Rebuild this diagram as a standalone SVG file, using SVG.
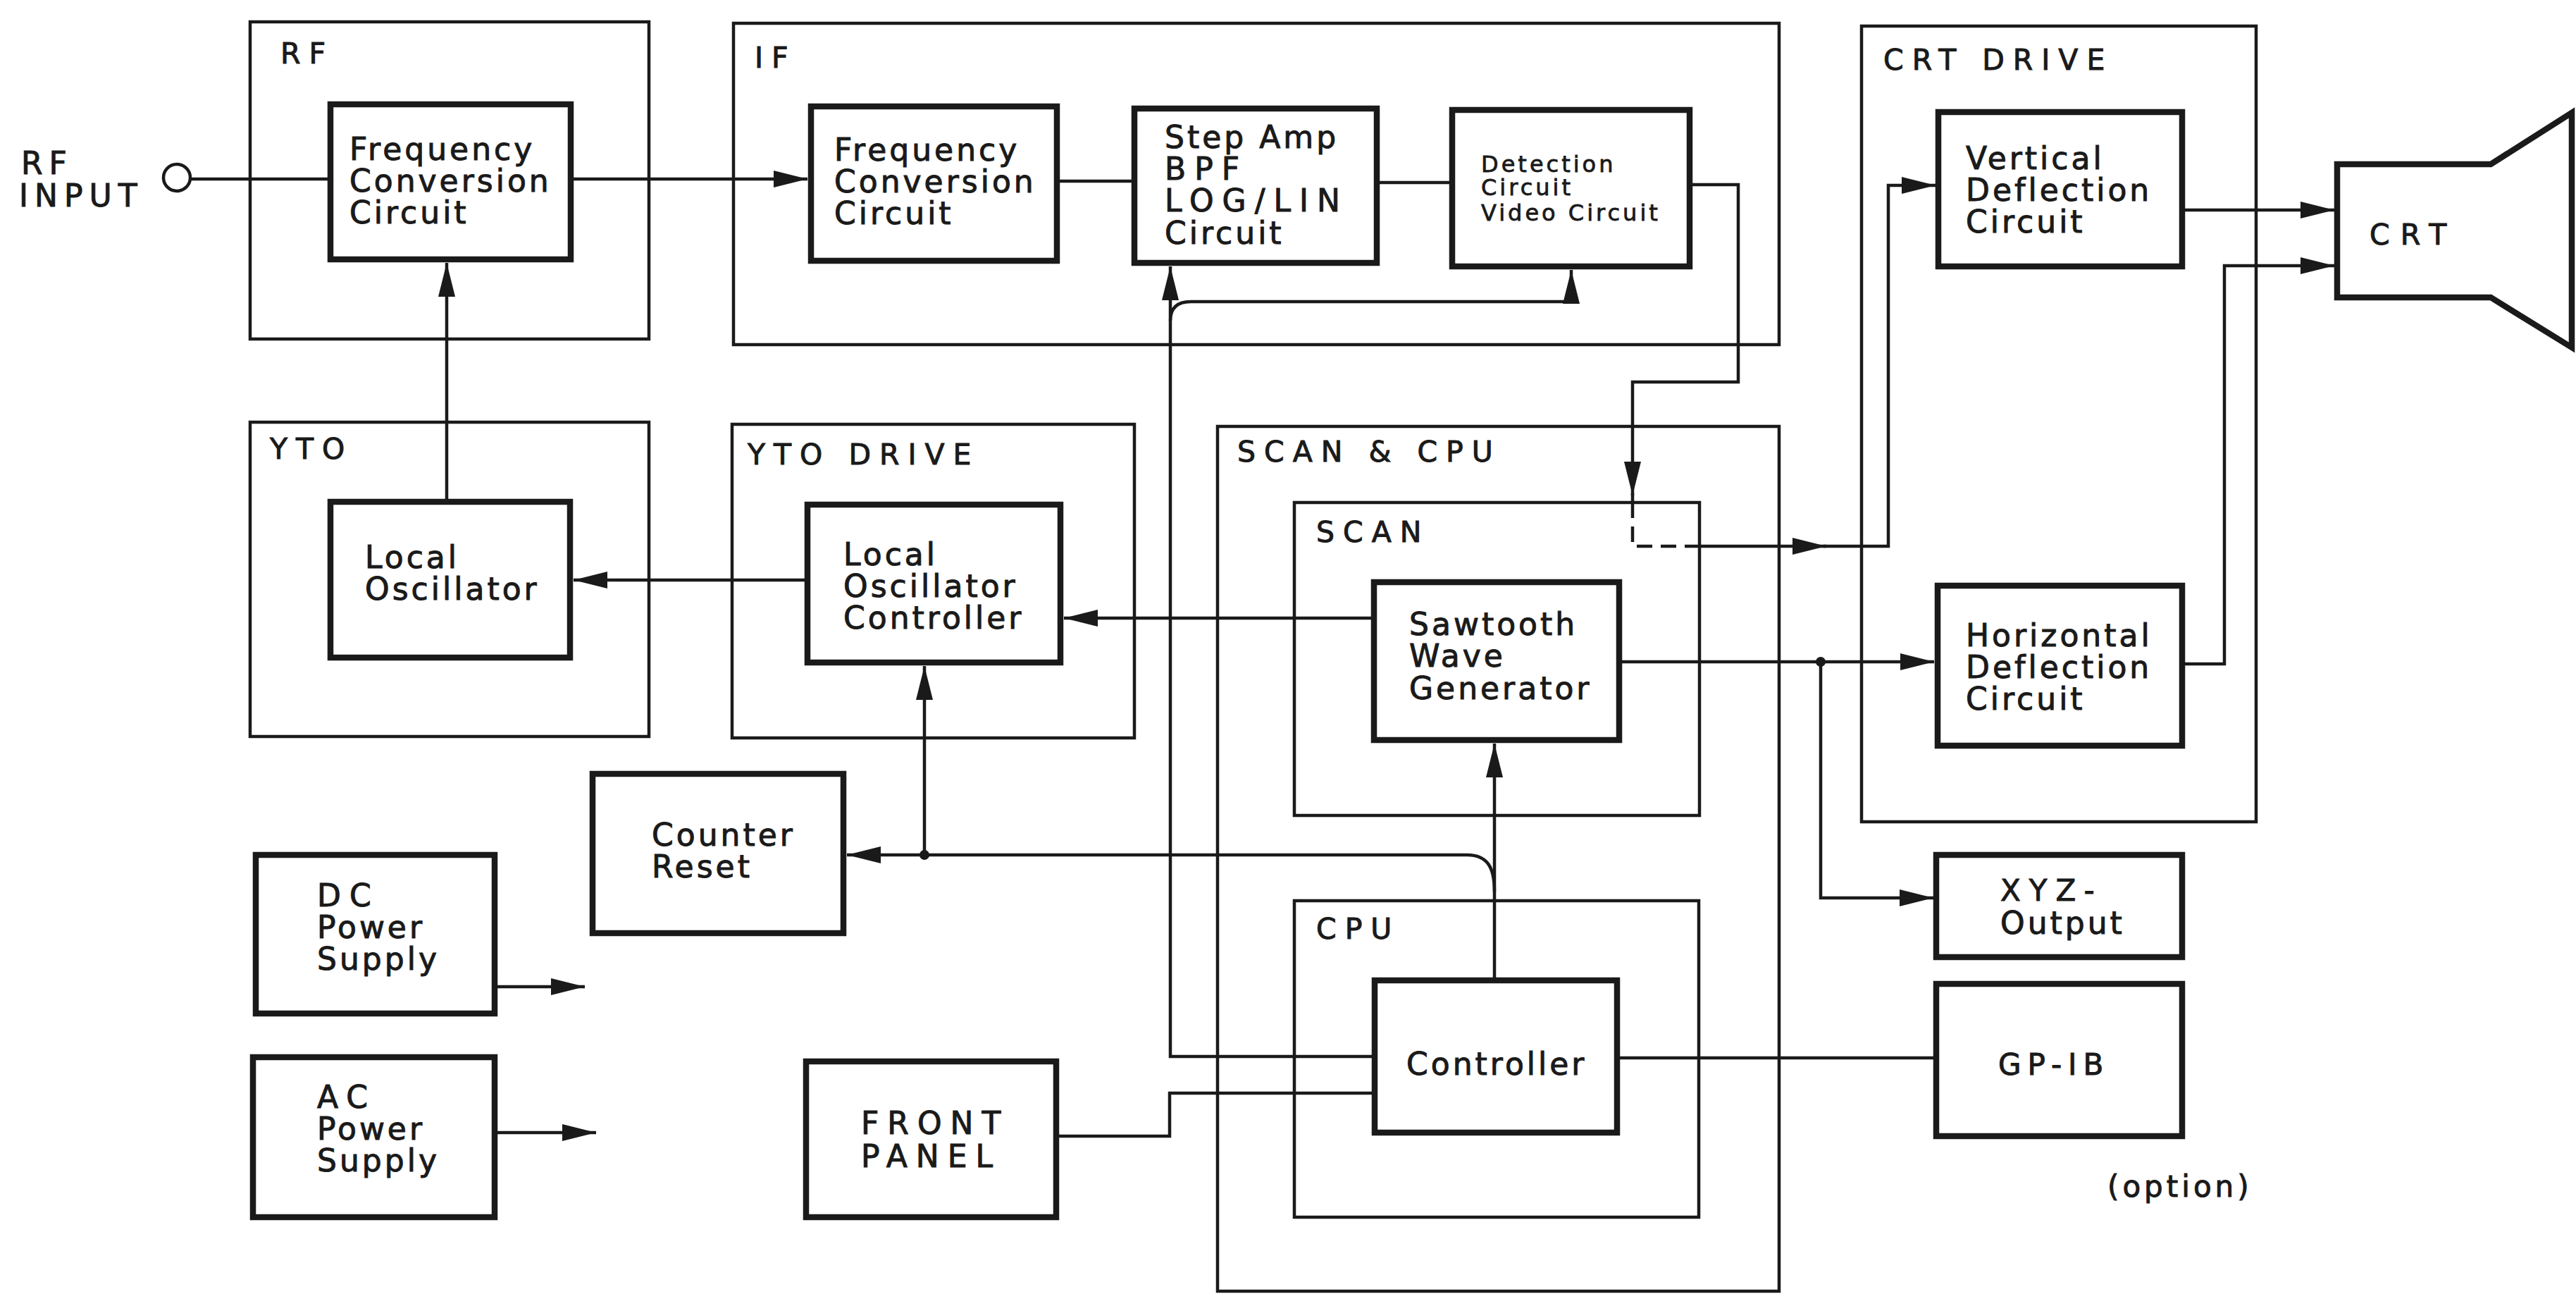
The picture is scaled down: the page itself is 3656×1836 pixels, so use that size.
<svg xmlns="http://www.w3.org/2000/svg" xmlns:xlink="http://www.w3.org/1999/xlink" width="3656" height="1836" viewBox="0 0 3656 1836">
<style>
  .frame{fill:none;stroke:#1a1a1a;stroke-width:4.5}
  .box{fill:none;stroke:#1a1a1a;stroke-width:8.5}
  .wire{fill:none;stroke:#1a1a1a;stroke-width:4.5}
  .dash{fill:none;stroke:#1a1a1a;stroke-width:4.5;stroke-dasharray:22 12}
  .dot{fill:#1a1a1a}
  text{font-family:"DejaVu Sans","Liberation Sans",sans-serif;fill:#1a1a1a;stroke:#1a1a1a;stroke-width:1}
  .lbl{font-size:41px;letter-spacing:12px}
  .t{font-size:44px;letter-spacing:4px}
  .tu{font-size:44px;letter-spacing:12px}
  .ts{font-size:32px;letter-spacing:4px;stroke-width:0.8}
</style>
<defs>
  <marker id="arr" markerUnits="userSpaceOnUse" markerWidth="50" markerHeight="26" refX="48" refY="12" orient="auto">
    <path d="M0,0 L48,12 L0,24 Z" fill="#1a1a1a"/>
  </marker>
</defs>
<rect x="0" y="0" width="3656" height="1836" fill="#ffffff"/>

<!-- group frames -->
<g id="grp-rf"><rect class="frame" x="355" y="31" width="566" height="450"/><text class="lbl" x="398" y="90">RF</text></g>
<g id="grp-if"><rect class="frame" x="1041" y="33" width="1484" height="456"/><text class="lbl" x="1071" y="96">IF</text></g>
<g id="grp-crtdrive"><rect class="frame" x="2642" y="37" width="560" height="1129"/><text class="lbl" x="2673" y="99">CRT DRIVE</text></g>
<g id="grp-yto"><rect class="frame" x="355" y="599" width="566" height="446"/><text class="lbl" x="383" y="651">YTO</text></g>
<g id="grp-ytodrive"><rect class="frame" x="1039" y="602" width="571" height="445"/><text class="lbl" x="1061" y="659">YTO DRIVE</text></g>
<g id="grp-scancpu"><rect class="frame" x="1728" y="605" width="797" height="1227"/><text class="lbl" x="1756" y="655">SCAN &amp; CPU</text></g>
<g id="grp-scan"><rect class="frame" x="1837" y="713" width="575" height="444"/><text class="lbl" x="1868" y="769">SCAN</text></g>
<g id="grp-cpu"><rect class="frame" x="1837" y="1278" width="574" height="449"/><text class="lbl" x="1868" y="1332">CPU</text></g>

<!-- connectors -->
<g id="connectors">
  <circle class="wire" cx="251" cy="252" r="19"/>
  <path class="wire" d="M270 254 L469 254"/>
  <path class="wire" d="M810 254 L1146 254" marker-end="url(#arr)"/>
  <path class="wire" d="M1500 257 L1610 257"/>
  <path class="wire" d="M1954 259 L2061 259"/>
  <path class="wire" d="M2398 262 L2467 262 L2467 542 L2317 542 L2317 703" marker-end="url(#arr)"/>
  <path class="wire" d="M2317 700 L2317 713"/>
  <path class="dash" d="M2317 713 L2317 775 L2413 775"/>
  <path class="wire" d="M2411 775 L2592 775" marker-end="url(#arr)"/>
  <path class="wire" d="M2588 775 L2680 775 L2680 263 L2747 263" marker-end="url(#arr)"/>
  <path class="wire" d="M3097 298 L3313 298" marker-end="url(#arr)"/>
  <path class="wire" d="M3097 942 L3157 942 L3157 377 L3313 377" marker-end="url(#arr)"/>
  <path class="wire" d="M1950 877 L1510 877" marker-end="url(#arr)"/>
  <path class="wire" d="M1146 823 L814 823" marker-end="url(#arr)"/>
  <path class="wire" d="M634 712 L634 373" marker-end="url(#arr)"/>
  <path class="wire" d="M2298 939 L2745 939" marker-end="url(#arr)"/>
  <circle class="dot" cx="2584" cy="939" r="7"/>
  <path class="wire" d="M2584 939 L2584 1274 L2744 1274" marker-end="url(#arr)"/>
  <path class="wire" d="M2295 1501 L2748 1501"/>
  <path class="wire" d="M2121 1391 L2121 1055" marker-end="url(#arr)"/>
  <path class="wire" d="M2121 1265 C2121 1232 2112 1213 2082 1213 L1202 1213" marker-end="url(#arr)"/>
  <circle class="dot" cx="1312" cy="1213" r="7"/>
  <path class="wire" d="M1312 1213 L1312 945" marker-end="url(#arr)"/>
  <path class="wire" d="M1951 1499 L1661 1499 L1661 378" marker-end="url(#arr)"/>
  <path class="wire" d="M1661 455 Q1661 428 1690 428 L2230 428 L2230 383" marker-end="url(#arr)"/>
  <path class="wire" d="M1499 1612 L1660 1612 L1660 1551 L1951 1551"/>
  <path class="wire" d="M706 1400 L830 1400" marker-end="url(#arr)"/>
  <path class="wire" d="M706 1607 L846 1607" marker-end="url(#arr)"/>
</g>

<!-- nodes -->
<g id="rf-input"><text class="tu" x="30" y="247" style="letter-spacing:9px">RF</text><text class="tu" x="27" y="293" style="letter-spacing:9px">INPUT</text></g>
<g id="rf-freqconv"><rect class="box" x="469" y="148" width="341" height="220"/>
  <text class="t" x="496" y="227">Frequency</text><text class="t" x="496" y="272">Conversion</text><text class="t" x="496" y="317">Circuit</text></g>
<g id="if-freqconv"><rect class="box" x="1151" y="151" width="349" height="219"/>
  <text class="t" x="1184" y="228">Frequency</text><text class="t" x="1184" y="273">Conversion</text><text class="t" x="1184" y="318">Circuit</text></g>
<g id="stepamp"><rect class="box" x="1610" y="154" width="344" height="219"/>
  <text class="t" x="1653" y="210">Step Amp</text><text class="tu" x="1653" y="255">BPF</text><text class="tu" x="1653" y="300">LOG/LIN</text><text class="t" x="1653" y="346">Circuit</text></g>
<g id="detection"><rect class="box" x="2061" y="156" width="337" height="222"/>
  <text class="ts" x="2102" y="244">Detection</text><text class="ts" x="2102" y="277">Circuit</text><text class="ts" x="2102" y="313">Video Circuit</text></g>
<g id="vertical"><rect class="box" x="2751" y="159" width="346" height="219"/>
  <text class="t" x="2790" y="240">Vertical</text><text class="t" x="2790" y="285">Deflection</text><text class="t" x="2790" y="330">Circuit</text></g>
<g id="crt"><path class="box" d="M3317 233 L3535 233 L3650 160 L3650 493 L3535 422 L3317 422 Z"/>
  <text class="tu" x="3363" y="347" style="font-size:41px;letter-spacing:15px">CRT</text></g>
<g id="localosc"><rect class="box" x="469" y="712" width="340" height="221"/>
  <text class="t" x="518" y="806">Local</text><text class="t" x="518" y="851">Oscillator</text></g>
<g id="locontroller"><rect class="box" x="1146" y="716" width="359" height="224"/>
  <text class="t" x="1197" y="802">Local</text><text class="t" x="1197" y="847">Oscillator</text><text class="t" x="1197" y="892">Controller</text></g>
<g id="sawtooth"><rect class="box" x="1950" y="826" width="348" height="224"/>
  <text class="t" x="2000" y="901">Sawtooth</text><text class="t" x="2000" y="946">Wave</text><text class="t" x="2000" y="992">Generator</text></g>
<g id="horizontal"><rect class="box" x="2750" y="831" width="347" height="227"/>
  <text class="t" x="2790" y="917">Horizontal</text><text class="t" x="2790" y="962">Deflection</text><text class="t" x="2790" y="1007">Circuit</text></g>
<g id="counterreset"><rect class="box" x="841" y="1098" width="356" height="226"/>
  <text class="t" x="925" y="1200">Counter</text><text class="t" x="925" y="1245">Reset</text></g>
<g id="dcpower"><rect class="box" x="363" y="1213" width="339" height="225"/>
  <text class="tu" x="450" y="1286">DC</text><text class="t" x="450" y="1331">Power</text><text class="t" x="450" y="1376">Supply</text></g>
<g id="acpower"><rect class="box" x="359" y="1500" width="343" height="227"/>
  <text class="tu" x="450" y="1572">AC</text><text class="t" x="450" y="1617">Power</text><text class="t" x="450" y="1662">Supply</text></g>
<g id="frontpanel"><rect class="box" x="1144" y="1506" width="355" height="221"/>
  <text class="tu" x="1222" y="1609">FRONT</text><text class="tu" x="1222" y="1656">PANEL</text></g>
<g id="controller"><rect class="box" x="1951" y="1391" width="344" height="216"/>
  <text class="t" x="1996" y="1525">Controller</text></g>
<g id="xyz"><rect class="box" x="2748" y="1213" width="349" height="145"/>
  <text class="tu" x="2839" y="1278" style="font-size:42px">XYZ-</text><text class="t" x="2839" y="1325">Output</text></g>
<g id="gpib"><rect class="box" x="2748" y="1396" width="349" height="216"/>
  <text class="tu" x="2836" y="1525" style="font-size:42px;letter-spacing:9px">GP-IB</text></g>
<g id="option"><text class="t" x="2991" y="1698" style="font-size:42px;letter-spacing:5px">(option)</text></g>
</svg>
